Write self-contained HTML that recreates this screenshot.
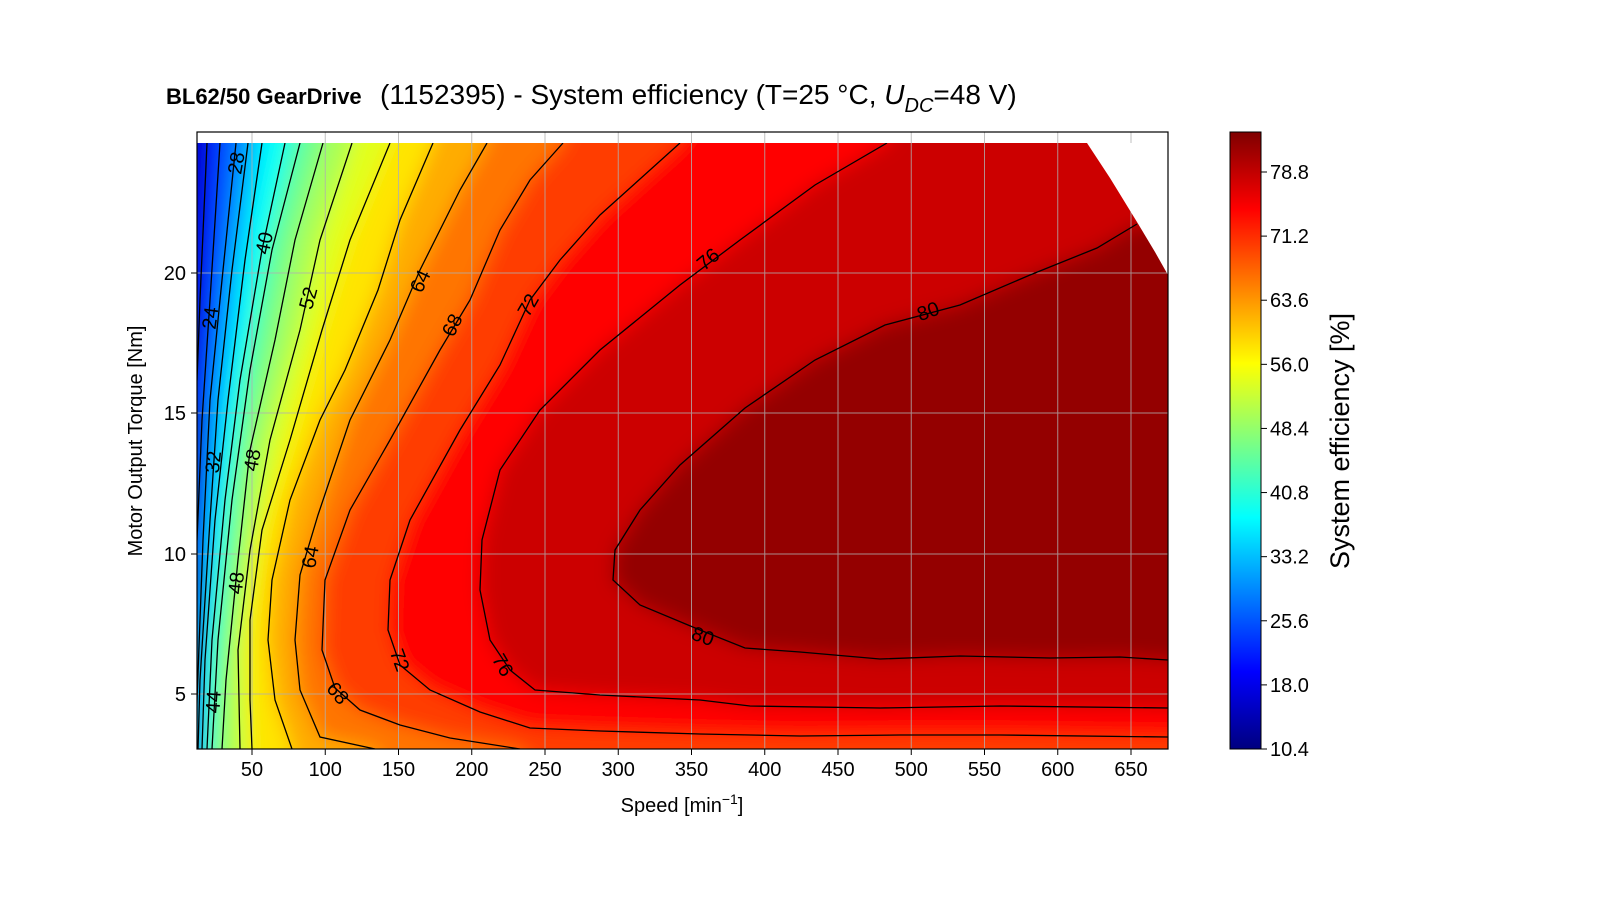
<!DOCTYPE html>
<html><head><meta charset="utf-8"><style>
body{margin:0;background:#fff;}
svg{display:block;font-family:"Liberation Sans","DejaVu Sans",sans-serif;}
</style></head><body>
<svg id="s" width="1600" height="900" viewBox="0 0 1600 900" xmlns="http://www.w3.org/2000/svg">
<defs>
<clipPath id="pc"><rect x="197" y="143" width="971" height="606"/></clipPath>
<filter id="bl" x="-10%" y="-10%" width="120%" height="120%"><feGaussianBlur stdDeviation="9"/></filter>
<linearGradient id="cb" x1="0" y1="1" x2="0" y2="0">
<stop offset="0" stop-color="#00007f"/><stop offset="0.125" stop-color="#0000ff"/>
<stop offset="0.375" stop-color="#00ffff"/>
<stop offset="0.625" stop-color="#ffff00"/><stop offset="0.875" stop-color="#ff0000"/>
<stop offset="1" stop-color="#7f0000"/></linearGradient>
</defs>
<rect width="1600" height="900" fill="#fff"/>
<g clip-path="url(#pc)"><g id="fills" filter="url(#bl)"></g></g>
<g id="grid" stroke="#b0b0b0" stroke-width="1" opacity="0.8"></g>
<g id="lines" fill="none" stroke="#000" stroke-width="1.3" clip-path="url(#pc)"></g>
<path d="M1087,143 L1110,178 L1137,222 L1155,252 L1168,275 L1168,143 Z" fill="#fff"/>
<g id="labels" font-size="20" fill="#000" text-anchor="middle"></g>
<rect x="197" y="132" width="971" height="617" fill="none" stroke="#000" stroke-width="1.2"/>
<g id="ticks" font-size="20" fill="#000"></g>
<rect x="1230" y="132" width="31" height="617" fill="url(#cb)" stroke="#000" stroke-width="1"/>
<text x="682" y="812" font-size="20" text-anchor="middle">Speed [min<tspan dy="-8" font-size="14">−1</tspan><tspan dy="8">]</tspan></text>
<text transform="translate(142,441) rotate(-90)" font-size="20" text-anchor="middle">Motor Output Torque [Nm]</text>
<text transform="translate(1349,441) rotate(-90)" font-size="27" text-anchor="middle">System efficiency [%]</text>
<text x="166" y="104" font-size="22" font-weight="bold">BL62/50 GearDrive</text>
<text x="380" y="104" font-size="28">(1152395) - System efficiency (T=25 °C, <tspan font-style="italic">U</tspan><tspan font-style="italic" font-size="20" dy="8">DC</tspan><tspan dy="-8">=48 V)</tspan></text>
</svg>
<script>
function jet(v){var t=(v-10.4)/73.1;t=Math.max(0,Math.min(1,t));
function c(x){return Math.round(255*Math.max(0,Math.min(1,1.5-Math.abs(x))));}
return "rgb("+c(4*t-3)+","+c(4*t-2)+","+c(4*t-1)+")";}
var L={
20:[[207,143],[200,300],[197,380],[190,400]],
24:[[220,143],[210,300],[202,420],[197,540],[190,560]],
28:[[236,143],[222,280],[210,400],[203,540],[197,700],[195,760]],
32:[[248,143],[232,270],[218,400],[210,520],[200,680],[198,749]],
36:[[262,143],[245,260],[228,400],[215,520],[205,660],[202,749]],
40:[[285,143],[262,250],[240,380],[225,500],[212,640],[207,749]],
44:[[300,143],[272,250],[250,370],[232,500],[218,640],[212,749]],
48:[[323,143],[295,240],[275,340],[250,450],[238,560],[226,680],[222,749]],
52:[[352,143],[320,240],[300,330],[270,440],[250,550],[238,650],[240,749]],
56:[[390,143],[350,240],[322,330],[290,440],[262,530],[250,620],[250,700],[252,749]],
60:[[433,143],[400,220],[378,290],[345,370],[320,420],[290,500],[272,580],[268,640],[275,700],[292,749]],
64:[[487,143],[460,190],[420,270],[390,340],[350,420],[318,515],[300,575],[295,640],[300,690],[320,737],[375,749]],
68:[[563,143],[530,180],[500,230],[470,300],[440,350],[390,440],[350,510],[325,580],[322,650],[335,688],[360,710],[400,725],[450,738],[520,749]],
72:[[680,143],[600,215],[560,260],[530,300],[500,365],[460,430],[410,520],[390,580],[388,630],[400,665],[430,690],[480,712],[530,728],[600,731],[700,734],[800,736],[900,735],[1000,735],[1168,737]],
76:[[887,143],[815,185],[740,240],[680,285],[600,350],[540,410],[500,470],[482,540],[480,590],[490,640],[510,670],[535,690],[600,695],[700,700],[750,706],[880,708],[1000,706],[1168,708]],
80:[[1137,224],[1097,248],[1030,275],[960,305],[885,325],[815,360],[745,408],[680,465],[640,510],[615,550],[613,580],[640,605],[700,630],[745,648],[800,652],[880,659],[960,656],[1050,658],[1120,657],[1168,660]]};
var NS="http://www.w3.org/2000/svg";
function el(p,n,a,t){var e=document.createElementNS(NS,n);for(var k in a)e.setAttribute(k,a[k]);if(t!=null)e.textContent=t;document.getElementById(p).appendChild(e);return e;}
el("fills","rect",{x:160,y:100,width:1060,height:700,fill:jet(16)});
var keys=Object.keys(L).map(Number).sort(function(a,b){return a-b;});
function ext(p){var q=p.slice();var f=q[0],l=q[q.length-1];
if(f[1]<=143)q.unshift([f[0]+(f[0]-q[1][0])*0.3,110]);
if(l[1]>=745)q.push([l[0]+(l[0]-q[q.length-2][0])*0.5,790]);
return q;}
keys.forEach(function(k){var p=ext(L[k]);var f=p[0],l=p[p.length-1];
var d="M"+p.map(function(q){return q.join(",")}).join(" L");
d+=" L1230,"+l[1]+" L1230,"+f[1]+" Z";
el("fills","path",{d:d,fill:jet(k+2)});
el("lines","path",{d:"M"+L[k].map(function(q){return q.join(",")}).join(" L")});
});
for(var v=50;v<=650;v+=50){var x=252+(v-50)*1.465;el("grid","line",{x1:x,y1:132,x2:x,y2:749});
el("ticks","line",{x1:x,y1:749,x2:x,y2:755,stroke:"#000"});
el("ticks","text",{x:x,y:776,"text-anchor":"middle"},v);}
[[5,694],[10,554],[15,413],[20,273]].forEach(function(a){el("grid","line",{x1:197,y1:a[1],x2:1168,y2:a[1]});
el("ticks","line",{x1:191,y1:a[1],x2:197,y2:a[1],stroke:"#000"});
el("ticks","text",{x:186,y:a[1]+7,"text-anchor":"end"},a[0]);});
[10.4,18.0,25.6,33.2,40.8,48.4,56.0,63.6,71.2,78.8].forEach(function(v,i){var y=749-(v-10.4)*(577/68.4);
el("ticks","line",{x1:1261,y1:y,x2:1267,y2:y,stroke:"#000"});
el("ticks","text",{x:1270,y:y+7},v.toFixed(1));});
[["28",236,163,-80],["24",210,318,-82],["40",264,243,-78],["32",213,462,-84],["48",252,460,-80],["48",236,583,-84],["44",213,702,-86],["52",308,298,-75],["64",420,281,-65],["64",310,557,-80],["68",452,325,-65],["68",338,693,50],["72",528,305,-60],["72",400,660,70],["76",708,259,-40],["76",503,665,60],["80",928,311,-20],["80",703,636,20]].forEach(function(a){
var g=el("labels","g",{transform:"translate("+a[1]+","+a[2]+") rotate("+a[3]+")"});
var t=document.createElementNS(NS,"text");t.setAttribute("y","7");t.textContent=a[0];g.appendChild(t);});
</script>
</body></html>
